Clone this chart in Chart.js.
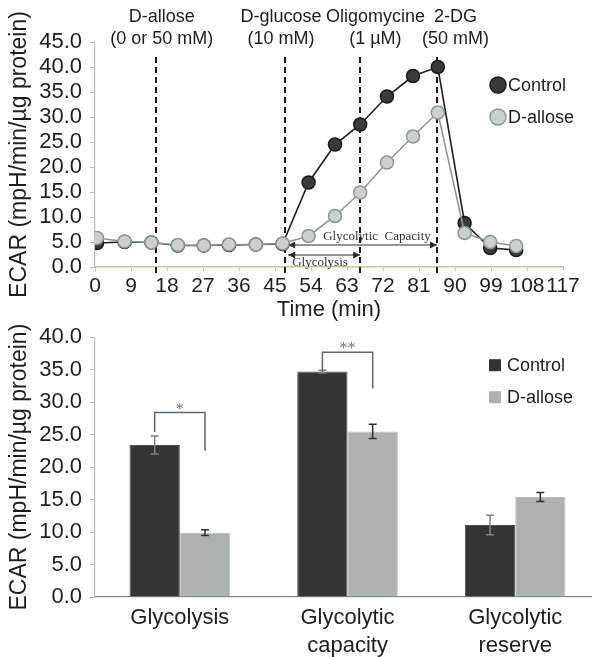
<!DOCTYPE html>
<html>
<head>
<meta charset="utf-8">
<script src="https://cdn.jsdelivr.net/npm/chart.js@4.4.1/dist/chart.umd.min.js"></script>
<style>
  html, body { margin: 0; padding: 0; background: #fff; }
  #wrap { position: relative; width: 592px; height: 657px; overflow: hidden; }
  canvas { position: absolute; left: 0; }
  #top { top: 0; }
  #bottom { top: 316px; }
</style>
</head>
<body>
<div id="wrap">
  <canvas id="top" width="592" height="324"></canvas>
  <canvas id="bottom" width="592" height="341"></canvas>
</div>
<script>
// --- time course (top panel) ---
const times = [0.5, 7.4, 14.1, 20.7, 27.2, 33.5, 40.2, 46.9, 53.4, 60, 66.3, 73, 79.5, 85.7, 92.4, 98.8, 105.3];
const controlEcar = [4.8, 5.0, 4.9, 4.3, 4.3, 4.4, 4.5, 4.6, 16.9, 24.5, 28.5, 34.1, 38.2, 40.0, 8.8, 3.8, 3.4];
const alloseEcar = [5.8, 5.1, 4.9, 4.4, 4.3, 4.5, 4.5, 4.7, 6.2, 10.2, 14.9, 20.9, 26.1, 30.9, 6.8, 5.0, 4.2];
const timeTicks = [0, 9, 18, 27, 36, 45, 54, 63, 72, 81, 90, 99, 108, 117];
const ecarTicksTop = [0, 5, 10, 15, 20, 25, 30, 35, 40, 45];

// injections
const injectTimes = [15.2, 47.6, 66.3, 85.5];
const injectNames = ["D-allose", "D-glucose", "Oligomycine", "2-DG"];
const injectDoses = ["(0 or 50 mM)", "(10 mM)", "(1 µM)", "(50 mM)"];
const injectLabelAt = [16.7, 46.5, 70.1, 90.1];

// --- summary bars (bottom panel) ---
const categories = ["Glycolysis", "Glycolytic capacity", "Glycolytic reserve"];
const controlBars = [23.4, 34.7, 11.1];
const controlErr = [1.4, 0.2, 1.5];
const alloseBars = [9.9, 25.5, 15.4];
const alloseErr = [0.45, 1.1, 0.7];
const ecarTicksBottom = [0, 5, 10, 15, 20, 25, 30, 35, 40];
// significance: category, bracket level, left / right drop ends
const sigCats = [0, 1];
const sigLevel = [28.4, 37.7];
const sigLeft = [25.4, 34.7];
const sigRight = [22.5, 32.1];
const sigText = ["*", "**"];

const SANS = "'Liberation Sans', Arial, Helvetica, sans-serif";
const SERIF = "'Liberation Serif', 'Times New Roman', serif";
const CTRL_FILL = "#3a3a3a", CTRL_EDGE = "#1a1a1a";
const ALLO_FILL = "#c8d1cd", ALLO_EDGE = "#8d9894";
const BAR_CTRL = "#333434", BAR_ALLO = "#aab3af";

const fixTicks = vals => scale => { scale.ticks = vals.map(v => ({ value: v })); };

function arrowHead(ctx, x, y, dir) {
  ctx.beginPath();
  ctx.moveTo(x, y);
  ctx.lineTo(x + dir * 7, y - 3.5);
  ctx.lineTo(x + dir * 7, y + 3.5);
  ctx.closePath();
  ctx.fill();
}

function spanArrow(ctx, x1, x2, y) {
  ctx.beginPath();
  ctx.moveTo(x1, y);
  ctx.lineTo(x2, y);
  ctx.stroke();
  arrowHead(ctx, x1, y, 1);
  arrowHead(ctx, x2, y, -1);
}

const topDecor = {
  id: "topDecor",
  beforeDatasetsDraw(chart) {
    const { ctx, chartArea, scales: { x, y } } = chart;
    ctx.save();
    // injection lines
    ctx.strokeStyle = "#1c1c1c";
    ctx.lineWidth = 2;
    ctx.setLineDash([6, 4]);
    injectTimes.forEach(t => {
      const px = Math.round(x.getPixelForValue(t));
      ctx.beginPath();
      ctx.moveTo(px, y.getPixelForValue(42));
      ctx.lineTo(px, y.getPixelForValue(0) + 6);
      ctx.stroke();
    });
    ctx.setLineDash([]);

    // glycolysis / capacity arrows
    ctx.strokeStyle = "#2a2a2a";
    ctx.fillStyle = "#2a2a2a";
    ctx.lineWidth = 1.2;
    const x0 = x.getPixelForValue(48.3);
    spanArrow(ctx, x0, x.getPixelForValue(injectTimes[3]), y.getPixelForValue(4.4));
    spanArrow(ctx, x0, x.getPixelForValue(injectTimes[2]), y.getPixelForValue(2.4));
    ctx.fillStyle = "#333";
    ctx.font = "13px " + SERIF;
    ctx.textBaseline = "middle";
    ctx.textAlign = "center";
    ctx.fillText("Glycolytic  Capacity", x.getPixelForValue(70.5), y.getPixelForValue(6.0));
    ctx.textAlign = "left";
    ctx.fillText("Glycolysis", x0 + 4, y.getPixelForValue(0.8));

    // injection labels
    ctx.fillStyle = "#1e1e1e";
    ctx.font = "18px " + SANS;
    ctx.textAlign = "center";
    injectNames.forEach((n, i) => {
      const px = x.getPixelForValue(injectLabelAt[i]);
      ctx.fillText(n, px, chartArea.top - 25);
      ctx.fillText(injectDoses[i], px, chartArea.top - 3);
    });
    ctx.restore();
  },
  afterDraw(chart) {
    const { ctx, chartArea } = chart;
    ctx.save();
    const lx = chartArea.right - 65;
    const rows = [
      { t: "Control", fill: CTRL_FILL, edge: CTRL_EDGE, y: chartArea.top + 43 },
      { t: "D-allose", fill: ALLO_FILL, edge: ALLO_EDGE, y: chartArea.top + 75 }
    ];
    ctx.font = "18px " + SANS;
    ctx.textBaseline = "middle";
    rows.forEach(r => {
      ctx.beginPath();
      ctx.arc(lx, r.y, 8, 0, Math.PI * 2);
      ctx.fillStyle = r.fill;
      ctx.fill();
      ctx.lineWidth = 1.5;
      ctx.strokeStyle = r.edge;
      ctx.stroke();
      ctx.fillStyle = "#1e1e1e";
      ctx.fillText(r.t, lx + 10, r.y + 1);
    });
    ctx.restore();
  }
};

const bottomDecor = {
  id: "bottomDecor",
  afterDatasetsDraw(chart) {
    const { ctx, chartArea, scales: { y } } = chart;
    ctx.save();
    // error bars
    const errs = [controlErr, alloseErr];
    const vals = [controlBars, alloseBars];
    const cols = ["#7b838b", "#2d2d2d"];
    [0, 1].forEach(d => {
      chart.getDatasetMeta(d).data.forEach((bar, i) => {
        const hi = y.getPixelForValue(vals[d][i] + errs[d][i]);
        const lo = y.getPixelForValue(vals[d][i] - errs[d][i]);
        ctx.strokeStyle = cols[d];
        ctx.lineWidth = 1.5;
        ctx.beginPath();
        ctx.moveTo(bar.x, hi); ctx.lineTo(bar.x, lo);
        ctx.moveTo(bar.x - 4, hi); ctx.lineTo(bar.x + 4, hi);
        ctx.moveTo(bar.x - 4, lo); ctx.lineTo(bar.x + 4, lo);
        ctx.stroke();
      });
    });

    // significance brackets
    const c = chart.getDatasetMeta(0).data, a = chart.getDatasetMeta(1).data;
    ctx.strokeStyle = "#5e6873";
    ctx.fillStyle = "#6b7580";
    ctx.lineWidth = 1.5;
    ctx.font = "16px " + SERIF;
    ctx.textAlign = "center";
    ctx.textBaseline = "alphabetic";
    sigCats.forEach((k, i) => {
      const xl = c[k].x, xr = a[k].x;
      const top = y.getPixelForValue(sigLevel[i]);
      ctx.beginPath();
      ctx.moveTo(xl, y.getPixelForValue(sigLeft[i]));
      ctx.lineTo(xl, top);
      ctx.lineTo(xr, top);
      ctx.lineTo(xr, y.getPixelForValue(sigRight[i]));
      ctx.stroke();
      ctx.fillText(sigText[i], (xl + xr) / 2, top + 1);
    });

    // legend
    const lx = chartArea.right - 97;
    const rows = [
      { t: "Control", fill: BAR_CTRL, y: chartArea.top + 28 },
      { t: "D-allose", fill: BAR_ALLO, y: chartArea.top + 60 }
    ];
    ctx.font = "18px " + SANS;
    ctx.textAlign = "left";
    ctx.textBaseline = "middle";
    rows.forEach(r => {
      ctx.fillStyle = r.fill;
      ctx.fillRect(lx - 6, r.y - 6, 12, 12);
      ctx.fillStyle = "#1e1e1e";
      ctx.fillText(r.t, lx + 12, r.y + 1);
    });
    ctx.restore();
  }
};

function yAxis(ticks, max) {
  return {
    min: 0,
    max: max,
    afterBuildTicks: fixTicks(ticks),
    afterFit: s => { s.width = 95; },
    border: { color: "#bdbdbd", width: 1.2 },
    grid: { drawOnChartArea: false, tickLength: 5, color: "#bdbdbd" },
    ticks: {
      color: "#1e1e1e",
      padding: 8,
      autoSkip: false,
      font: { family: SANS, size: 22 },
      callback: v => v.toFixed(1)
    },
    title: {
      display: true,
      text: "ECAR (mpH/min/µg protein)",
      color: "#1e1e1e",
      padding: { top: 6, bottom: 0 },
      font: { family: SANS, size: 23 }
    }
  };
}

function initTop() {
  new Chart(document.getElementById("top"), {
    type: "line",
    data: {
      datasets: [
        {
          label: "D-allose",
          data: times.map((t, i) => ({ x: t, y: alloseEcar[i] })),
          borderColor: ALLO_EDGE,
          borderWidth: 1.6,
          pointBackgroundColor: ALLO_FILL,
          pointBorderColor: ALLO_EDGE,
          pointBorderWidth: 1.5,
          pointRadius: 6.5,
          tension: 0
        },
        {
          label: "Control",
          data: times.map((t, i) => ({ x: t, y: controlEcar[i] })),
          borderColor: "#1e1e1e",
          borderWidth: 1.6,
          pointBackgroundColor: CTRL_FILL,
          pointBorderColor: CTRL_EDGE,
          pointBorderWidth: 1.5,
          pointRadius: 6.5,
          tension: 0
        }
      ]
    },
    options: {
      responsive: false,
      animation: false,
      devicePixelRatio: 1,
      layout: { padding: { left: 0, top: 42, right: 29, bottom: 0 } },
      plugins: { legend: { display: false }, tooltip: { enabled: false } },
      scales: {
        x: {
          type: "linear",
          min: 0,
          max: 117,
          afterBuildTicks: fixTicks(timeTicks),
          afterFit: s => { s.height = 57; },
          border: { color: "#c4c39e", width: 1.5 },
          grid: { drawOnChartArea: false, tickLength: 4, color: "#c4c39e" },
          ticks: {
            color: "#1e1e1e",
            padding: 3,
            autoSkip: false,
            maxRotation: 0,
            font: { family: SANS, size: 21 }
          },
          title: {
            display: true,
            text: "Time (min)",
            color: "#1e1e1e",
            padding: { top: 0, bottom: 1 },
            font: { family: SANS, size: 22 }
          }
        },
        y: yAxis(ecarTicksTop, 45)
      }
    },
    plugins: [topDecor]
  });
}

function initBottom() {
  new Chart(document.getElementById("bottom"), {
    type: "bar",
    data: {
      datasets: [
        {
          label: "Control",
          data: controlBars.map((v, i) => ({ x: i, y: v })),
          backgroundColor: BAR_CTRL,
          borderColor: "#4a5258",
          borderWidth: 1
        },
        {
          label: "D-allose",
          data: alloseBars.map((v, i) => ({ x: i, y: v })),
          backgroundColor: BAR_ALLO,
          borderColor: "#b9c1bd",
          borderWidth: 1
        }
      ]
    },
    options: {
      responsive: false,
      animation: false,
      devicePixelRatio: 1,
      categoryPercentage: 0.6,
      barPercentage: 1,
      layout: { padding: { left: 0, top: 18, right: 0, bottom: 0 } },
      plugins: { legend: { display: false }, tooltip: { enabled: false } },
      scales: {
        x: {
          type: "linear",
          offset: false,
          min: -0.506,
          max: 2.458,
          afterBuildTicks: fixTicks([0, 1, 2]),
          afterFit: s => { s.height = 60; },
          border: { color: "#7d8a96", width: 1.2, dash: [2, 1] },
          grid: { display: false, offset: false },
          ticks: {
            color: "#1e1e1e",
            padding: -1,
            autoSkip: false,
            maxRotation: 0,
            font: { family: SANS, size: 22, lineHeight: 1.27 },
            callback: v => (categories[v] ? categories[v].split(" ") : "")
          }
        },
        y: yAxis(ecarTicksBottom, 40)
      }
    },
    plugins: [bottomDecor]
  });
}

window.onload = () => {
  initTop();
  initBottom();
};
</script>
</body>
</html>
